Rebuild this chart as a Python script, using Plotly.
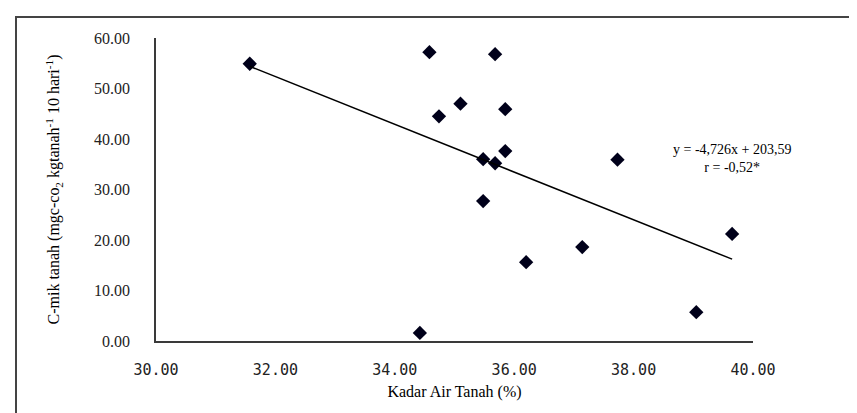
import plotly.graph_objects as go

# Data
kadar_air = [31.57, 34.58, 35.68, 35.10, 34.74, 35.85, 35.85, 35.48, 35.68, 35.48,
             37.14, 36.20, 34.42, 37.73, 39.65, 39.05]
c_mik = [54.9, 57.2, 56.8, 47.0, 44.5, 45.9, 37.6, 36.0, 35.2, 27.7,
         18.6, 15.6, 1.6, 35.9, 21.2, 5.7]
x_ticks = [30, 32, 34, 36, 38, 40]
y_ticks = [0, 10, 20, 30, 40, 50, 60]
slope = -4.726
intercept = 203.59
eq_text = "y = -4,726x + 203,59<br>r = -0,52*"

serif = "Liberation Serif, Times New Roman, serif"
axis_col = "#3a3a3a"

x0, x1 = min(kadar_air), max(kadar_air)

fig = go.Figure()
fig.add_trace(go.Scatter(
    x=kadar_air, y=c_mik, mode="markers",
    marker=dict(symbol="diamond", size=11, color="#00001a"),
    showlegend=False, hoverinfo="x+y"))
fig.add_trace(go.Scatter(
    x=[x0, x1], y=[slope * x0 + intercept, slope * x1 + intercept],
    mode="lines", line=dict(color="black", width=1.5),
    showlegend=False, hoverinfo="skip"))

fig.add_annotation(x=39.64, y=36.2, xref="x", yref="y", text=eq_text,
                   showarrow=False, align="center",
                   font=dict(family=serif, size=14, color="black"))

fig.add_shape(type="rect", xref="paper", yref="paper",
              x0=-0.2345, y0=-0.35, x1=1.3, y1=1.069,
              line=dict(color="#444444", width=2), layer="above")

fig.update_layout(
    width=857, height=413,
    margin=dict(l=148, r=112, t=30, b=80, autoexpand=False),
    paper_bgcolor="white", plot_bgcolor="white",
    xaxis=dict(range=[30, 40], tickvals=x_ticks, tickformat=".2f",
               showgrid=False, zeroline=False, showline=True,
               linecolor=axis_col, linewidth=1.5, ticks="",
               ticklabelstandoff=14,
               tickfont=dict(family="DejaVu Sans Mono, monospace", size=15, color="#222222"),
               title=dict(text="Kadar Air Tanah (%)", standoff=8,
                          font=dict(family=serif, size=16, color="black"))),
    yaxis=dict(range=[0, 60], tickvals=y_ticks, tickformat=".2f",
               showgrid=False, zeroline=False, showline=True,
               linecolor=axis_col, linewidth=1.5, ticks="",
               ticklabelstandoff=21,
               tickfont=dict(family=serif, size=16, color="#222222"),
               title=dict(text="C-mik tanah (mgc-co<sub>2</sub> kgtanah<sup>-1</sup> 10 hari<sup>-1</sup>)",
                          standoff=30,
                          font=dict(family=serif, size=16, color="black"))),
)

fig.write_html("out.html")
